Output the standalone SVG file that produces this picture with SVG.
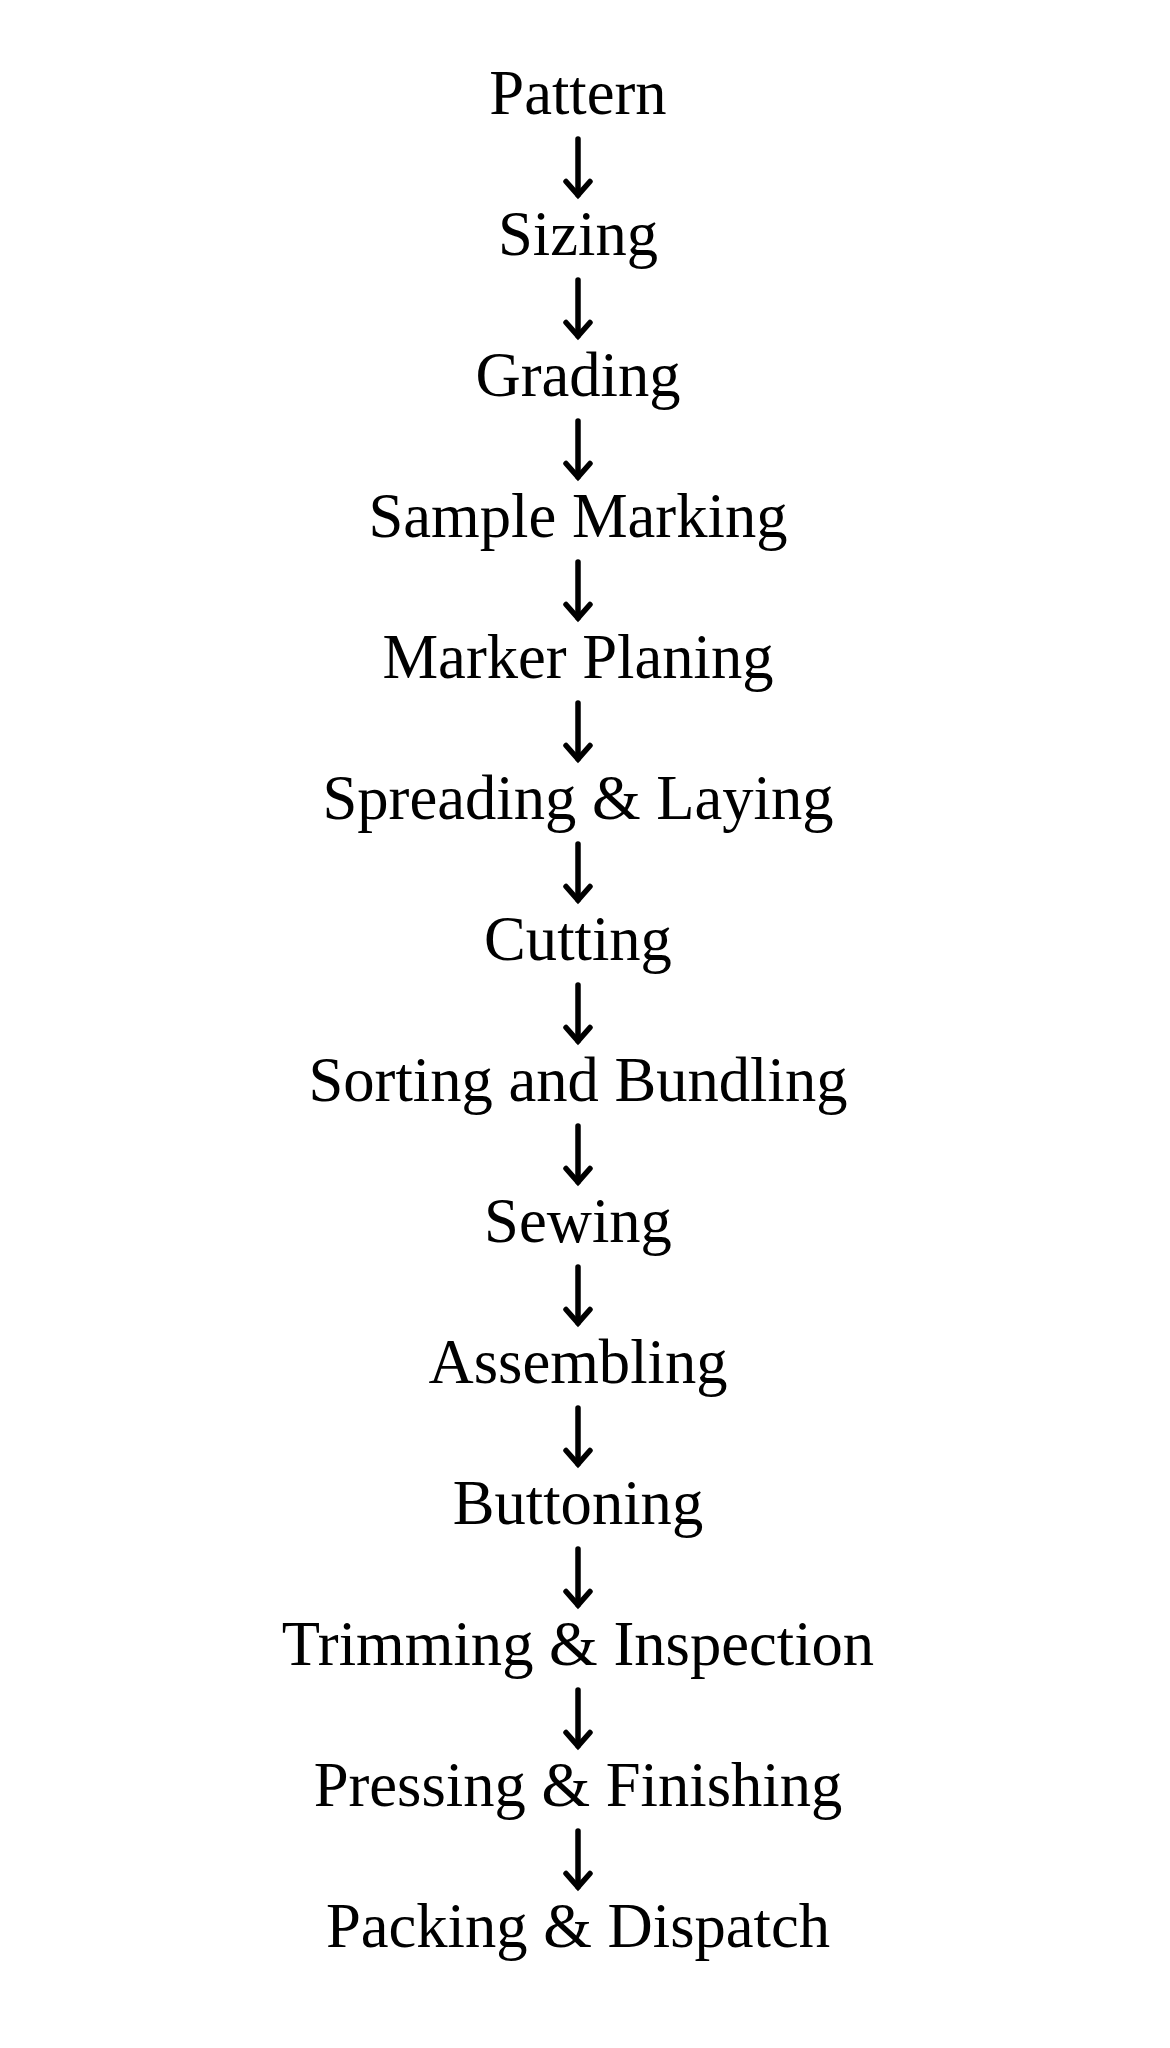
<svg xmlns="http://www.w3.org/2000/svg" width="1170" height="2048" viewBox="0 0 1170 2048">
<style>
.lbl{font-family:"Liberation Serif","Times New Roman",serif;font-size:62.6px;fill:#000;text-anchor:middle}
.con{stroke:#000;stroke-width:5.5;fill:none;stroke-linecap:round}
</style>
<defs>
<marker id="ah" markerUnits="userSpaceOnUse" markerWidth="40" markerHeight="40" viewBox="-20 -30 40 40" refX="0" refY="0" orient="0" overflow="visible">
<path d="M-12,-13.5 L0,0 L12,-13.5" stroke="#000" stroke-width="5.5" fill="none" stroke-linecap="round" stroke-linejoin="miter"/>
</marker>
</defs>
<rect width="1170" height="2048" fill="#fff"/>
<g id="connectors">
<line class="con" x1="578" y1="139" x2="578" y2="195" marker-end="url(#ah)"/>
<line class="con" x1="578" y1="280" x2="578" y2="336" marker-end="url(#ah)"/>
<line class="con" x1="578" y1="421" x2="578" y2="477" marker-end="url(#ah)"/>
<line class="con" x1="578" y1="562" x2="578" y2="618" marker-end="url(#ah)"/>
<line class="con" x1="578" y1="703" x2="578" y2="759" marker-end="url(#ah)"/>
<line class="con" x1="578" y1="844" x2="578" y2="900" marker-end="url(#ah)"/>
<line class="con" x1="578" y1="985" x2="578" y2="1041" marker-end="url(#ah)"/>
<line class="con" x1="578" y1="1126" x2="578" y2="1182" marker-end="url(#ah)"/>
<line class="con" x1="578" y1="1267" x2="578" y2="1323" marker-end="url(#ah)"/>
<line class="con" x1="578" y1="1408" x2="578" y2="1464" marker-end="url(#ah)"/>
<line class="con" x1="578" y1="1549" x2="578" y2="1605" marker-end="url(#ah)"/>
<line class="con" x1="578" y1="1690" x2="578" y2="1746" marker-end="url(#ah)"/>
<line class="con" x1="578" y1="1831" x2="578" y2="1887" marker-end="url(#ah)"/>
</g>
<g id="n1"><text class="lbl" x="578" y="114">Pattern</text></g>
<g id="n2"><text class="lbl" x="578" y="255">Sizing</text></g>
<g id="n3"><text class="lbl" x="578" y="396">Grading</text></g>
<g id="n4"><text class="lbl" x="578" y="537">Sample Marking</text></g>
<g id="n5"><text class="lbl" x="578" y="678">Marker Planing</text></g>
<g id="n6"><text class="lbl" x="578" y="819">Spreading &amp; Laying</text></g>
<g id="n7"><text class="lbl" x="578" y="960">Cutting</text></g>
<g id="n8"><text class="lbl" x="578" y="1101">Sorting and Bundling</text></g>
<g id="n9"><text class="lbl" x="578" y="1242">Sewing</text></g>
<g id="n10"><text class="lbl" x="578" y="1383">Assembling</text></g>
<g id="n11"><text class="lbl" x="578" y="1524">Buttoning</text></g>
<g id="n12"><text class="lbl" x="578" y="1665">Trimming &amp; Inspection</text></g>
<g id="n13"><text class="lbl" x="578" y="1806">Pressing &amp; Finishing</text></g>
<g id="n14"><text class="lbl" x="578" y="1947">Packing &amp; Dispatch</text></g>
</svg>
